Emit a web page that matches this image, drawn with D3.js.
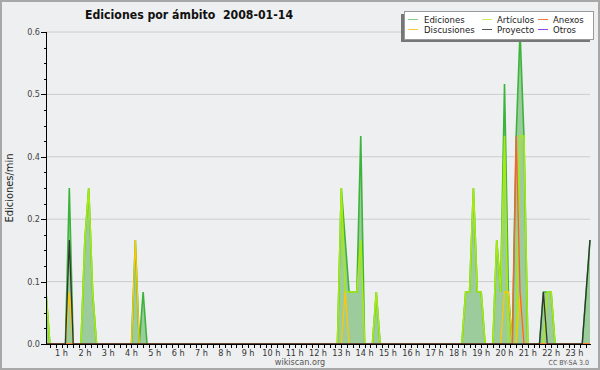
<!DOCTYPE html>
<html>
<head>
<meta charset="utf-8">
<script src="https://cdn.jsdelivr.net/npm/d3@7"></script>
<style>
body { margin: 0; background: #fff; }
text { font-family: "DejaVu Sans Condensed", "DejaVu Sans", sans-serif; font-stretch: condensed; }
</style>
</head>
<body>
<svg id="chart"></svg>
<script>
// Ediciones por ámbito, 2008-01-14 (wikiscan), 10 min buckets from 00:20 to 23:40

const titulo = "Ediciones por ámbito  2008-01-14";
const horas = ["1 h","2 h","3 h","4 h","5 h","6 h","7 h","8 h","9 h","10 h","11 h","12 h",
  "13 h","14 h","15 h","16 h","17 h","18 h","19 h","20 h","21 h","22 h","23 h"];
const yTicks = [0, 0.12, 0.24, 0.36, 0.48, 0.6];

const ediciones = [
  0.1,0,0,0,0,0,0.3,0,0,0, 0.2,0.3,0.1,0,0,0,0,0,0,0,
  0,0,0,0.2,0,0.1,0,0,0,0, 0,0,0,0,0,0,0,0,0,0,
  0,0,0,0,0,0,0,0,0,0, 0,0,0,0,0,0,0,0,0,0,
  0,0,0,0,0,0,0,0,0,0, 0,0,0,0,0,0,0.3,0.2,0.1,0.1,
  0.1,0.4,0,0,0,0.1,0,0,0,0, 0,0,0,0,0,0,0,0,0,0,
  0,0,0,0,0,0,0,0,0.1,0.1, 0.3,0.1,0.1,0,0,0,0.2,0.1,0.5,0.1,
  0,0.4,0.6,0.4,0,0,0,0,0.1,0.1, 0.1,0,0,0,0,0,0,0,0,0.1,
  0.2];
const articulos = [
  0.1,0,0,0,0,0,0,0,0,0, 0.2,0.3,0.1,0,0,0,0,0,0,0,
  0,0,0,0,0,0,0,0,0,0, 0,0,0,0,0,0,0,0,0,0,
  0,0,0,0,0,0,0,0,0,0, 0,0,0,0,0,0,0,0,0,0,
  0,0,0,0,0,0,0,0,0,0, 0,0,0,0,0,0,0.3,0.1,0.1,0.1,
  0.1,0.2,0,0,0,0.1,0,0,0,0, 0,0,0,0,0,0,0,0,0,0,
  0,0,0,0,0,0,0,0,0.1,0.1, 0.3,0.1,0.1,0,0,0,0.2,0.1,0.4,0,
  0,0,0.4,0.4,0,0,0,0,0,0.1, 0.1,0,0,0,0,0,0,0,0,0,
  0];
const discusiones = [
  0,0,0,0,0,0,0.1,0,0,0, 0,0,0,0,0,0,0,0,0,0,
  0,0,0,0.2,0,0,0,0,0,0, 0,0,0,0,0,0,0,0,0,0,
  0,0,0,0,0,0,0,0,0,0, 0,0,0,0,0,0,0,0,0,0,
  0,0,0,0,0,0,0,0,0,0, 0,0,0,0,0,0,0,0.1,0,0,
  0,0,0,0,0,0,0,0,0,0, 0,0,0,0,0,0,0,0,0,0,
  0,0,0,0,0,0,0,0,0,0, 0,0,0,0,0,0,0,0,0.1,0.1,
  0,0,0.1,0,0,0,0,0,0,0, 0,0,0,0,0,0,0,0,0,0,
  0];
const anexos = [
  0,0,0,0,0,0,0,0,0,0, 0,0,0,0,0,0,0,0,0,0,
  0,0,0,0,0,0,0,0,0,0, 0,0,0,0,0,0,0,0,0,0,
  0,0,0,0,0,0,0,0,0,0, 0,0,0,0,0,0,0,0,0,0,
  0,0,0,0,0,0,0,0,0,0, 0,0,0,0,0,0,0,0,0,0,
  0,0,0,0,0,0,0,0,0,0, 0,0,0,0,0,0,0,0,0,0,
  0,0,0,0,0,0,0,0,0,0, 0,0,0,0,0,0,0,0,0,0,
  0,0.4,0.1,0,0,0,0,0,0,0, 0,0,0,0,0,0,0,0,0,0,
  0];
const proyecto = [
  0,0,0,0,0,0,0.2,0,0,0, 0,0,0,0,0,0,0,0,0,0,
  0,0,0,0,0,0,0,0,0,0, 0,0,0,0,0,0,0,0,0,0,
  0,0,0,0,0,0,0,0,0,0, 0,0,0,0,0,0,0,0,0,0,
  0,0,0,0,0,0,0,0,0,0, 0,0,0,0,0,0,0,0,0,0,
  0,0,0,0,0,0,0,0,0,0, 0,0,0,0,0,0,0,0,0,0,
  0,0,0,0,0,0,0,0,0,0, 0,0,0,0,0,0,0,0,0,0,
  0,0,0,0,0,0,0,0,0.1,0, 0,0,0,0,0,0,0,0,0,0.1,
  0.2];

const leyenda = [
  {nom: "Ediciones", col: "#80cc80"}, {nom: "Artículos", col: "#ccee55"}, {nom: "Anexos", col: "#ee7744"},
  {nom: "Discusiones", col: "#ffcc33"}, {nom: "Proyecto", col: "#555555"}, {nom: "Otros", col: "#9944ee"}
];

var margin = {top: 32, right: 10, bottom: 26, left: 46},
  width = 600, height = 370,
  plotW = width - margin.left - margin.right,
  plotH = height - margin.top - margin.bottom;

const svg = d3.select("#chart").attr("width", width).attr("height", height);

svg.append("rect")
  .attr("x", 1).attr("y", 1).attr("width", width - 2).attr("height", height - 2)
  .attr("fill", "#eeeff0").attr("stroke", "#a8a8a8").attr("stroke-width", 2);

const t0 = new Date(2008, 0, 14, 0, 20), t1 = new Date(2008, 0, 14, 23, 40);
const tiempos = d3.timeMinute.every(10).range(t0, new Date(2008, 0, 14, 23, 41));

const x = d3.scaleTime().domain([t0, t1]).range([margin.left, margin.left + plotW]);
const y = d3.scaleLinear().domain([0, 0.6]).range([margin.top + plotH, margin.top]);

// grid
svg.append("g").selectAll("line")
  .data(yTicks.slice(1))
  .enter().append("line")
  .attr("x1", margin.left).attr("x2", margin.left + plotW)
  .attr("y1", d => y(d)).attr("y2", d => y(d))
  .attr("stroke", "#cccccc").attr("stroke-width", 1);

svg.append("clipPath").attr("id", "clip")
  .append("rect").attr("x", margin.left).attr("y", 0).attr("width", plotW + 2).attr("height", y(0));

const plot = svg.append("g").attr("clip-path", "url(#clip)");

const area = d3.area().x((d, i) => x(tiempos[i])).y0(y(0)).y1(d => y(d));
const line = d3.line().x((d, i) => x(tiempos[i])).y(d => y(d));

plot.append("path").attr("d", area(ediciones)).attr("fill", "#9ccc9c");

const series = [
  {v: ediciones, c: "#3cb43c", w: 1.6},
  {v: articulos, c: "#a6ea10", w: 1.6},
  {v: discusiones, c: "#ffc800", w: 1.3},
  {v: anexos, c: "#ff6030", w: 1.3},
  {v: proyecto, c: "#333333", w: 1.3}
];
series.forEach(s => {
  plot.append("path").attr("d", line(s.v))
    .attr("fill", "none").attr("stroke", s.c).attr("stroke-width", s.w)
    .attr("stroke-linejoin", "miter");
});

// axe y
const ax = svg.append("g");
ax.append("line").attr("x1", margin.left + 0.5).attr("x2", margin.left + 0.5)
  .attr("y1", margin.top).attr("y2", y(0)).attr("stroke", "#000");
ax.selectAll(".minor").data(d3.range(0, 0.601, 0.03)).enter().append("line")
  .attr("x1", margin.left - 2).attr("x2", margin.left)
  .attr("y1", d => Math.round(y(d)) + 0.5).attr("y2", d => Math.round(y(d)) + 0.5)
  .attr("stroke", "#000");
ax.selectAll(".major").data(yTicks).enter().append("line")
  .attr("x1", margin.left - 5).attr("x2", margin.left)
  .attr("y1", d => Math.round(y(d)) + 0.5).attr("y2", d => Math.round(y(d)) + 0.5)
  .attr("stroke", "#000");
ax.selectAll("text").data(yTicks).enter().append("text")
  .attr("x", margin.left - 6).attr("y", d => y(d) + 3)
  .attr("text-anchor", "end").attr("font-size", 9).attr("fill", "#444")
  .text(d => d3.format(".1f")(d));

// axe x
ax.append("line").attr("x1", margin.left).attr("x2", margin.left + plotW + 1)
  .attr("y1", y(0) + 0.5).attr("y2", y(0) + 0.5).attr("stroke", "#000");
ax.selectAll(".xt").data(d3.timeMinute.every(15).range(t0, new Date(2008, 0, 14, 23, 41))).enter().append("line")
  .attr("x1", d => Math.round(x(d)) + 0.5).attr("x2", d => Math.round(x(d)) + 0.5)
  .attr("y1", y(0)).attr("y2", y(0) + 4)
  .attr("stroke", "#000");
ax.selectAll(".xl").data(horas).enter().append("text")
  .attr("x", (d, i) => x(new Date(2008, 0, 14, i + 1)))
  .attr("y", y(0) + 12)
  .attr("text-anchor", "middle").attr("font-size", 9).attr("fill", "#333")
  .text(d => d);

// textos
svg.append("text").attr("x", 85).attr("y", 19)
  .attr("font-size", 12.2).attr("font-weight", "bold").attr("fill", "#111")
  .style("white-space", "pre").text(titulo);

svg.append("text").attr("transform", "translate(13,188) rotate(-90)")
  .attr("text-anchor", "middle").attr("font-size", 11).attr("fill", "#222")
  .text("Ediciones/min");

svg.append("text").attr("x", 300).attr("y", 365).attr("text-anchor", "middle")
  .attr("font-size", 9).attr("fill", "#555").text("wikiscan.org");
svg.append("text").attr("x", 589).attr("y", 365).attr("text-anchor", "end")
  .attr("font-size", 7).attr("fill", "#555").text("CC BY-SA 3.0");

// leyenda
const leg = svg.append("g");
leg.append("rect").attr("x", 401).attr("y", 14).attr("width", 189).attr("height", 28).attr("fill", "#777");
leg.append("rect").attr("x", 404.5).attr("y", 11.5).attr("width", 189).attr("height", 28)
  .attr("fill", "#fff").attr("stroke", "#999");
const colX = [408, 482, 538];
leyenda.forEach((d, i) => {
  const cx = colX[i % 3], cy = i < 3 ? 19.5 : 29.5;
  leg.append("line").attr("x1", cx).attr("x2", cx + 10).attr("y1", cy).attr("y2", cy)
    .attr("stroke", d.col).attr("stroke-width", 1);
  leg.append("text").attr("x", cx + (i % 3 == 0 ? 16 : 15)).attr("y", cy + 3.5)
    .attr("font-size", 9.5).attr("fill", "#222").text(d.nom);
});
</script>
</body>
</html>
